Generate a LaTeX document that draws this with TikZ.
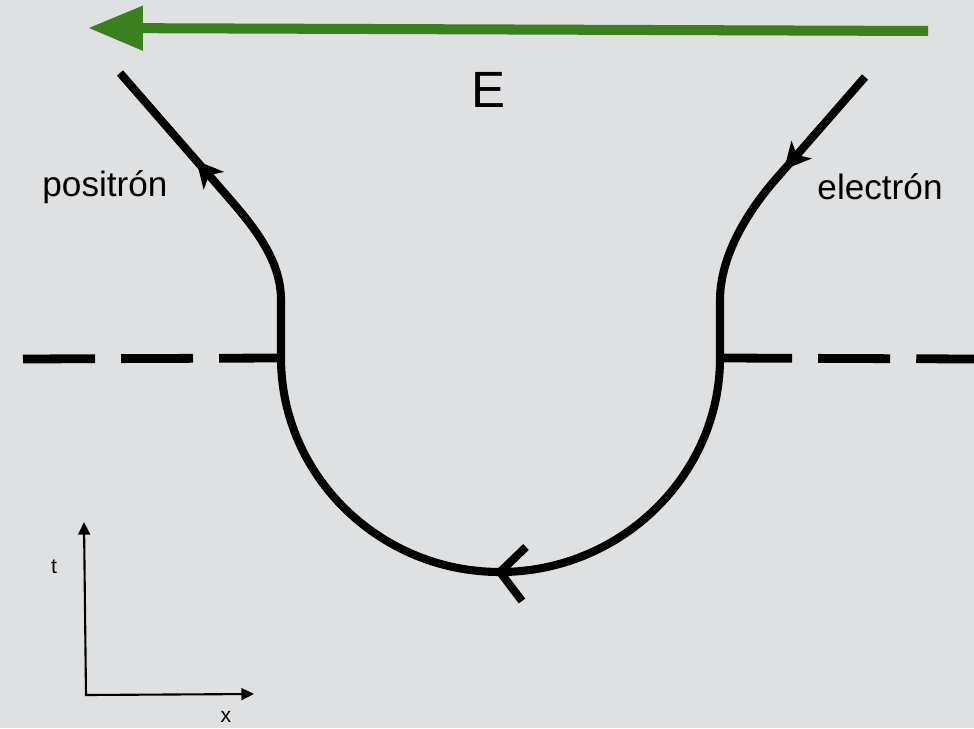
\documentclass[tikz,border=0pt]{standalone}
\usepackage{fontspec}
\setmainfont{Liberation Sans}
\usetikzlibrary{arrows.meta,calc,decorations.markings}
\definecolor{fieldgreen}{RGB}{58,128,30}
\definecolor{paper}{RGB}{223,224,226}

\begin{document}
\begin{tikzpicture}[x=0.01cm,y=-0.01cm,>=Stealth]
  \tikzset{
    wline/.style={line width=2.3pt,black},
    cut/.style={line width=2.5pt,dash pattern=on 20.5pt off 7.4pt},
    axis/.style={line width=0.6pt,{Triangle[length=3.6pt,width=3.4pt]}-{Triangle[length=3.6pt,width=3.4pt]}},
    lab/.style={font=\fontsize{10}{12}\selectfont},
    axlab/.style={font=\fontsize{6}{7}\selectfont}
  }
  \useasboundingbox (0,0) rectangle (974,728);
  \fill[paper] (0,0) rectangle (974,728);
  % field E
  \coordinate (fa) at (928,31);
  \coordinate (fb) at (88,28);
  \draw[fieldgreen,line width=2.85pt,-{Triangle[length=15.6pt,width=12pt]}] (fa) -- (fb);
  \node[font=\fontsize{14.5}{17}\selectfont] (E) at (488,90) {E};
  % worldline
  \coordinate (e0) at (865,77);
  \coordinate (e1) at (775,180);
  \coordinate (pr) at (720,358);
  \coordinate (bot) at (500,572);
  \coordinate (pl) at (281,358);
  \coordinate (p1) at (228,197);
  \coordinate (p0) at (120,73);
  \draw[wline,postaction={decorate},decoration={markings,
      mark=at position 35pt with {\arrow{Stealth[length=7.5pt,width=7.5pt,inset=2pt]}},
      mark=at position -33pt with {\arrow{Stealth[length=7.5pt,width=7.5pt,inset=2pt]}}}]
    (e0) -- (e1) .. controls (749,210) and (720,255) .. (720,300) -- (pr)
    .. controls (720,475) and (621,572) .. (bot)
    .. controls (379,572) and (281,475) .. (pl)
    -- (281,300) .. controls (281,260) and (254,227) .. (p1) -- (p0);
  \draw[wline] ($(bot)+(26,-25)$) -- (bot) -- ($(bot)+(22,29)$);
  % t = 0 cut
  \coordinate (dl) at (23,359);
  \coordinate (dr) at (974,359);
  \draw[cut] (dl) -- (pl);
  \draw[cut] (pr) -- (dr);
  \node[lab] (pos) at (105,187) {positrón};
  \node[lab] (ele) at (880,187) {electrón};
  % axes
  \coordinate (o) at (86,695);
  \coordinate (ty) at (84,522);
  \coordinate (tx) at (254,694);
  \draw[axis] (ty) -- (o) -- (tx);
  \node[axlab] (tl) at (54,567) {t};
  \node[axlab] (xl) at (226,717) {x};
\end{tikzpicture}
\end{document}
